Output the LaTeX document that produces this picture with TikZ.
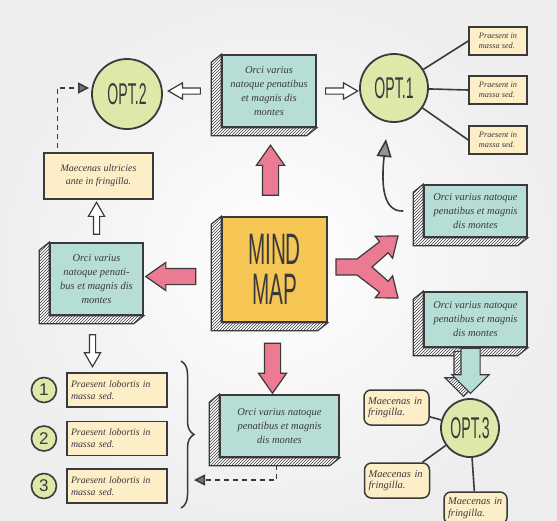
\documentclass[tikz,border=0pt]{standalone}
\usepackage{fontspec}
\setmainfont{Liberation Serif}
\newfontfamily\handfont{Liberation Serif}
\newfontfamily\titlefont[FakeStretch=0.47]{Liberation Sans}
\newfontfamily\numfont{Liberation Sans}
\usetikzlibrary{positioning, shapes.arrows, patterns, decorations.pathreplacing, arrows.meta}

\definecolor{ink}{RGB}{58,58,60}
\definecolor{tealfill}{RGB}{182,222,214}
\definecolor{cream}{RGB}{252,238,199}
\definecolor{lime}{RGB}{222,232,168}
\definecolor{mustard}{RGB}{246,198,84}
\definecolor{rose}{RGB}{236,122,146}

\tikzset{
  hatch/.style={fill=white, postaction={pattern=north east lines, pattern color=ink}},
  tealbox/.style={draw=ink, line width=1.5pt, fill=tealfill, align=center, text=ink,
    font=\handfont\itshape\fontsize{10.5}{14}\selectfont, inner sep=2pt},
  notebox/.style={draw=ink, line width=1.5pt, fill=cream, align=left, text=ink,
    font=\handfont\itshape\fontsize{8.3}{9.8}\selectfont, inner sep=2pt},
  optcircle/.style={circle, draw=ink, line width=1.8pt, fill=lime, text=ink,
    font=\titlefont\fontsize{30}{30}\selectfont, inner sep=0pt},
  numcircle/.style={circle, draw=ink, line width=1.6pt, fill=lime, text=ink,
    minimum size=25pt, inner sep=0pt, font=\numfont\fontsize{17}{17}\selectfont},
  hollowarrow/.style={single arrow, draw=ink, line width=1.2pt, fill=white, inner sep=2.5pt,
    single arrow head extend=5pt, single arrow tip angle=60, minimum height=32pt,
    sloped, allow upside down},
  pinkarrow/.style={single arrow, draw=ink, line width=1.2pt, fill=rose, inner sep=7.5pt,
    single arrow head extend=6pt, single arrow tip angle=70, minimum height=50pt,
    sloped, allow upside down},
  tealarrow/.style={single arrow, draw=ink, line width=1.2pt, fill=tealfill, inner sep=9pt,
    single arrow head extend=9pt, single arrow tip angle=90, minimum height=45pt,
    sloped, allow upside down},
  dashline/.style={draw=ink, line width=1.5pt, dash pattern=on 5pt off 4pt,
    -{Triangle[length=11pt, width=11pt, fill=ink!70]}},
  link/.style={draw=ink, line width=1.6pt},
}

% hatched side and bottom of a box
\newcommand{\slab}[1]{%
  \filldraw[draw=ink, line width=1.2pt, hatch] (#1.north west) -- ++(-10,8)
    -- ([shift={(-10,8)}]#1.south west) -- ([shift={(-10,8)}]#1.south east)
    -- (#1.south east) -- (#1.south west) -- cycle;}

\begin{document}
\begin{tikzpicture}[x=1pt, y=-1pt]
  \shade[inner color=white, outer color=gray!13] (0,0) rectangle (557,520);
  \useasboundingbox (0,0) rectangle (557,520);

  % top row
  \node[tealbox, minimum width=94pt, minimum height=72pt] (topbox) at (269,91)
    {Orci varius\\natoque penatibus\\et magnis dis\\montes};
  \slab{topbox}
  \node[optcircle, minimum size=70pt] (opt2) at (127,94) {OPT.2};
  \node[optcircle, minimum size=68pt] (opt1) at (394,88) {OPT.1};
  \path ([xshift=-10pt]topbox.west) -- (topbox.west -| opt2.east) node[hollowarrow, midway] {};
  \path ([xshift=2pt]topbox.east) -- (topbox.east -| opt1.west) node[hollowarrow, midway] {};

  \node[notebox, minimum width=58pt, minimum height=28pt] (pr1) at (498,41) {Praesent in\\massa sed.};
  \node[notebox, minimum width=58pt, minimum height=28pt] (pr2) at (498,90) {Praesent in\\massa sed.};
  \node[notebox, minimum width=58pt, minimum height=28pt] (pr3) at (498,140) {Praesent in\\massa sed.};
  \draw[link] (opt1) -- (pr1.west);
  \draw[link] (opt1) -- (pr2.west);
  \draw[link] (opt1) -- (pr3.west);

  % right box
  \node[tealbox, minimum width=103pt, minimum height=52pt] (rightbox) at (475.5,211)
    {Orci varius natoque\\penatibus et magnis\\dis montes};
  \slab{rightbox}
  \draw[link, -{Triangle[length=18pt, width=15pt, fill=ink!55]}] ([xshift=-20pt]rightbox.west)
    .. controls (383,212) and (381,185) .. ([shift={(-8,16)}]opt1.south);

  % centre
  \node[draw=ink, line width=1.5pt, fill=mustard, minimum size=105pt, align=center, text=ink,
    font=\titlefont\fontsize{44}{40}\selectfont] (mindmap) at (274.5,269.5) {MIND\\MAP};
  \slab{mindmap}

  % left column
  \node[tealbox, minimum width=93pt, minimum height=72pt] (leftbox) at (96.5,279)
    {Orci varius\\natoque penati-\\bus et magnis dis\\montes};
  \slab{leftbox}
  \node[notebox, align=center, font=\handfont\itshape\fontsize{10}{13}\selectfont,
    minimum width=109pt, minimum height=46pt] (ybox) at (98.5,176) {Maecenas ultricies\\ante in fringilla.};
  \path (leftbox.north) -- (leftbox.north |- ybox.south) node[hollowarrow, midway] {};
  \draw[dashline, shorten >=2pt] ([shift={(-41,-4)}]ybox.north) |- ([yshift=6pt]opt2.west);

  \node[notebox, font=\handfont\itshape\fontsize{9.8}{12}\selectfont, minimum width=100pt,
    minimum height=34pt, text width=92pt] (item1) at (117,390) {Praesent lobortis in\\massa sed.};
  \node[notebox, font=\handfont\itshape\fontsize{9.8}{12}\selectfont, minimum width=100pt,
    minimum height=34pt, text width=92pt] (item2) at (117,438.5) {Praesent lobortis in\\massa sed.};
  \node[notebox, font=\handfont\itshape\fontsize{9.8}{12}\selectfont, minimum width=100pt,
    minimum height=34pt, text width=92pt] (item3) at (117,486) {Praesent lobortis in\\massa sed.};
  \node[numcircle, left=9pt of item1] (num1) {1};
  \node[numcircle, left=9pt of item2] (num2) {2};
  \node[numcircle, left=9pt of item3] (num3) {3};
  \coordinate (lb) at ([shift={(-4,8)}]leftbox.south);
  \path (lb) -- (lb |- item1.north) node[hollowarrow, midway] {};
  \draw[ink, line width=1.5pt, decorate, decoration={brace, amplitude=13pt}] (181,361) -- (181,508);

  % bottom box
  \node[tealbox, minimum width=119pt, minimum height=62pt] (botbox) at (279.5,426)
    {Orci varius natoque\\penatibus et magnis\\dis montes};
  \slab{botbox}
  \coordinate (dashend) at (194,480);
  \draw[dashline] ([shift={(-3,7)}]botbox.south) |- (dashend);

  % pink arrows
  \coordinate (tb) at ([yshift=-8pt]topbox.south);
  \coordinate (mmT) at ([xshift=-4pt]mindmap.north);
  \path (mmT) -- (mmT |- tb) node[pinkarrow, midway] {};
  \coordinate (mmL) at ([shift={(-12,7)}]mindmap.west);
  \path (mmL) -- (mmL -| leftbox.east) node[pinkarrow, midway] {};
  \coordinate (mmB) at ([shift={(-2,8)}]mindmap.south);
  \path (mmB) -- (mmB |- botbox.north) node[pinkarrow, midway] {};
  \filldraw[draw=ink, line width=1.2pt, fill=rose] (336,259) -- (357,259) -- (379.6,241.7)
    -- (375.2,236.2) -- (398,236) -- (392.6,258.2) -- (388.2,252.7) -- (372,267)
    -- (388.2,281.3) -- (392.6,275.8) -- (398,298) -- (375.2,297.8) -- (379.6,292.3)
    -- (357,275) -- (336,275) -- cycle;

  % lower right
  \node[tealbox, minimum width=103pt, minimum height=55pt] (lrbox) at (475.5,319.5)
    {Orci varius natoque\\penatibus et magnis\\dis montes};
  \slab{lrbox}
  \node[optcircle, minimum size=58pt] (opt3) at (470,428) {OPT.3};
  \coordinate (lrtail) at ([xshift=-5pt]lrbox.south);
  \coordinate (lrshade) at ([shift={(-7,3)}]lrtail);
  \path (lrshade) -- (lrshade |- opt3.north) node[tealarrow, hatch, pos=0, anchor=tail] {};
  \path (lrtail) -- (lrtail |- opt3.north) node[tealarrow, pos=0, anchor=tail] {};

  \node[notebox, rounded corners=7pt, font=\handfont\itshape\fontsize{10.5}{11.5}\selectfont,
    minimum width=65pt, minimum height=35pt, text width=57pt] (mc1) at (396.5,407.5) {Maecenas in\\fringilla.};
  \node[notebox, rounded corners=7pt, font=\handfont\itshape\fontsize{10.5}{11.5}\selectfont,
    minimum width=65pt, minimum height=35pt, text width=57pt] (mc2) at (397,480.5) {Maecenas in\\fringilla.};
  \node[notebox, rounded corners=7pt, font=\handfont\itshape\fontsize{10.5}{11.5}\selectfont,
    minimum width=63pt, minimum height=32pt, text width=55pt] (mc3) at (475.5,508) {Maecenas in\\fringilla.};
  \draw[link] (opt3) -- (mc1);
  \draw[link] (opt3) -- (mc2);
  \draw[link] (opt3) -- (mc3);
\end{tikzpicture}
\end{document}
